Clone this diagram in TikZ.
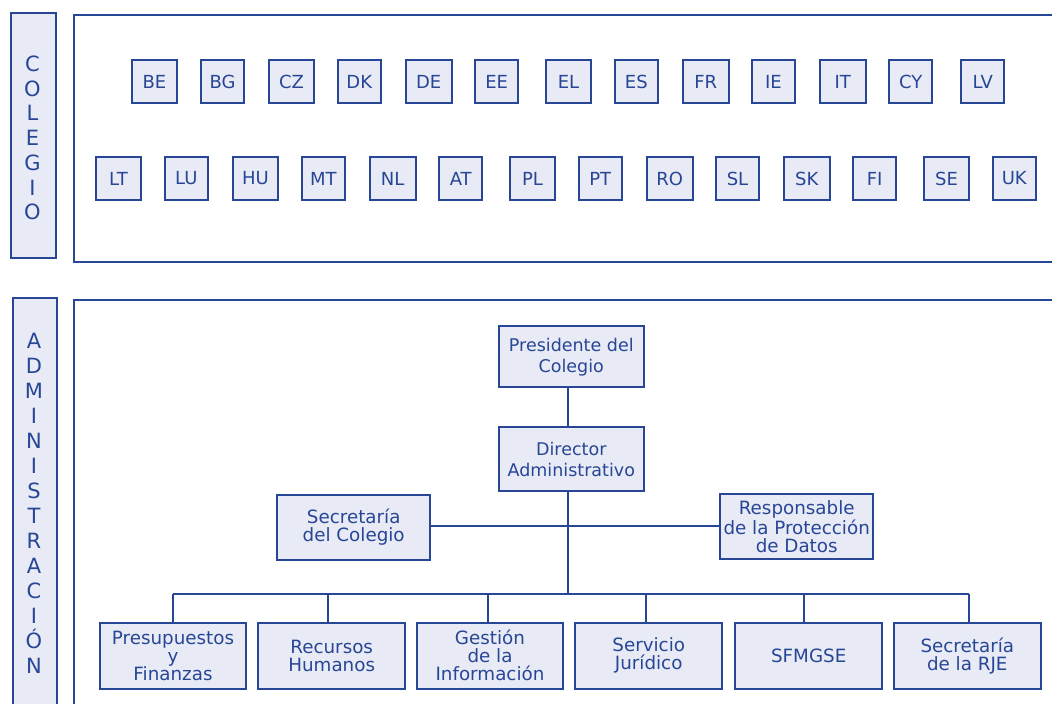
\documentclass[tikz,border=0pt]{standalone}
\usepackage{fontspec}
\setmainfont{DejaVu Sans}
\usetikzlibrary{calc}
\definecolor{bluec}{RGB}{40,70,150}
\definecolor{fillc}{RGB}{232,235,245}
\tikzset{
  boxbase/.style={draw=bluec, fill=fillc, line width=2pt, inner sep=0pt, text=bluec, align=center},
  cbox/.style={boxbase, minimum height=43pt, font={\fontsize{18}{18}\selectfont}},
  topbox/.style={boxbase, minimum width=145.3pt, font={\fontsize{17.5}{21}\selectfont}},
  orgbox/.style={boxbase, minimum width=146.6pt, minimum height=66pt, font={\fontsize{18.3}{18}\selectfont}},
  frame/.style={draw=bluec, line width=2pt},
  conn/.style={draw=bluec, line width=2pt},
  vlabel/.style={text=bluec, align=center, inner sep=0pt}
}
\begin{document}
\begin{tikzpicture}[x=1pt,y=-1pt]
\useasboundingbox (0,0) rectangle (1052,704);
\fill[white] (0,0) rectangle (1052,704);
% frames
\draw[frame] (73.5,14.5) rectangle (1070,261.7);
\draw[frame, fill=fillc] (11,13.3) rectangle (55.7,258);
\node[vlabel, font={\fontsize{21}{24.7}\selectfont}] (colegio) at (32.5,138) {C\\O\\L\\E\\G\\I\\O};
\draw[frame] (73.5,299.5) rectangle (1070,720);
\draw[frame, fill=fillc] (12.7,298.3) rectangle (56.7,720);
\node[vlabel, font={\fontsize{21}{25}\selectfont}] (admin) at (34,503) {A\\D\\M\\I\\N\\I\\S\\T\\R\\A\\C\\I\\Ó\\N};
% row 1
\foreach \n/\c/\w in {BE/154.5/45.6, BG/222.5/43, CZ/291.5/45.6, DK/359.3/43.3, DE/428.7/46, EE/496.7/43.3, EL/568.5/45.6, ES/636.3/43.3, FR/705.8/46.3, IE/773.5/43.6, IT/842.7/46, CY/910.7/43.3, LV/982.7/43.3}
  \node[cbox, minimum width=\w pt] (\n) at (\c,81.7) {\n};
% row 2
\foreach \n/\c/\w in {LT/118.5/45.6, LU/186.3/43.3, HU/255.5/45.6, MT/323.3/43.3, NL/392.7/46, AT/460.7/43.3, PL/532.5/45.6, PT/600.3/43.3, RO/669.7/46, SL/737.5/43.6, SK/806.7/46, FI/874.7/43.3, SE/946.5/45.6, UK/1014.3/43.3}
  \node[cbox, minimum width=\w pt] (\n) at (\c,178.5) {\n};
% org chart
\node[topbox, minimum height=61.3pt] (pres) at (571.3,356.7) {Presidente del\\Colegio};
\node[topbox, minimum height=64pt] (dir) at (571.3,459) {Director\\Administrativo};
\node[orgbox, minimum width=152.7pt, minimum height=65pt] (secc) at (353.7,527.5) {Secretaría\\del Colegio};
\node[orgbox, minimum width=152.7pt, minimum height=65pt] (resp) at (796.7,526.8) {Responsable\\de la Protección\\de Datos};
\node[orgbox] (presu) at (173,655.7) {Presupuestos\\y\\Finanzas};
\node[orgbox] (rrhh) at (331.7,655.7) {Recursos\\Humanos};
\node[orgbox] (gest) at (490,655.7) {Gestión\\de la\\Información};
\node[orgbox] (serv) at (648.7,655.7) {Servicio\\Jurídico};
\node[orgbox] (sfm) at (808.7,655.7) {SFMGSE};
\node[orgbox] (rje) at (967.3,655.7) {Secretaría\\de la RJE};
\coordinate (trunk) at (568.3,594);
\coordinate (busL) at (172.7,594);
\coordinate (busR) at (968.7,594);
\coordinate (hline) at (568.3,526.3);
\draw[conn] (pres.south -| trunk) -- (dir.north -| trunk);
\draw[conn] (dir.south -| trunk) -- (trunk);
\draw[conn] (secc.east |- hline) -- (resp.west |- hline);
\draw[conn] (busL) -- (busR);
\draw[conn] (busL) -- (busL |- presu.north);
\draw[conn] ([xshift=-4pt]rrhh.north |- trunk) -- ([xshift=-4pt]rrhh.north);
\draw[conn] ([xshift=-2pt]gest.north |- trunk) -- ([xshift=-2pt]gest.north);
\draw[conn] ([xshift=-2.7pt]serv.north |- trunk) -- ([xshift=-2.7pt]serv.north);
\draw[conn] ([xshift=-4.7pt]sfm.north |- trunk) -- ([xshift=-4.7pt]sfm.north);
\draw[conn] (busR) -- (busR |- rje.north);
\end{tikzpicture}
\end{document}
